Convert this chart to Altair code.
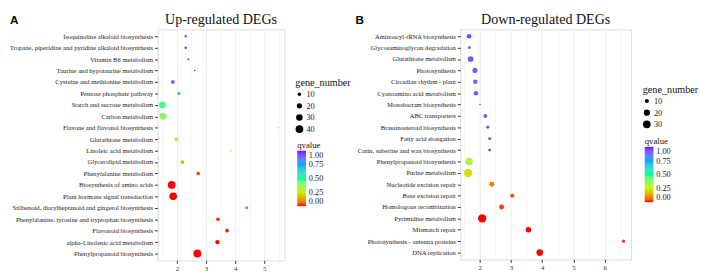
import altair as alt
import pandas as pd

# ---------------- data: panel A (up-regulated) ----------------
terms_up = [
    "Isoquinoline alkaloid biosynthesis",
    "Tropane, piperidine and pyridine alkaloid biosynthesis",
    "Vitamin B6 metabolism",
    "Taurine and hypotaurine metabolism",
    "Cysteine and methionine metabolism",
    "Pentose phosphate pathway",
    "Starch and sucrose metabolism",
    "Carbon metabolism",
    "Flavone and flavonol biosynthesis",
    "Glutathione metabolism",
    "Linoleic acid metabolism",
    "Glycerolipid metabolism",
    "Phenylalanine metabolism",
    "Biosynthesis of amino acids",
    "Plant hormone signal transduction",
    "Stilbenoid, diarylheptanoid and gingerol biosynthesis",
    "Phenylalanine, tyrosine and tryptophan biosynthesis",
    "Flavonoid biosynthesis",
    "alpha-Linolenic acid metabolism",
    "Phenylpropanoid biosynthesis",
]
rich_up = [2.30, 2.30, 2.39, 2.61, 1.86, 2.07, 1.50, 1.52, 5.48, 1.98,
           3.84, 2.19, 2.73, 1.82, 1.87, 4.40, 3.41, 3.72, 3.39, 2.70]
genes_up = [6, 6, 4, 3, 12, 9, 32, 33, 3, 12,
            4, 11, 10, 41, 40, 6, 10, 11, 14, 43]
q_up = [0.95, 0.95, 0.97, 1.00, 0.88, 0.66, 0.47, 0.40, 0.30, 0.32,
        0.28, 0.15, 0.02, 0.00, 0.00, 0.03, 0.01, 0.01, 0.00, 0.00]

# ---------------- data: panel B (down-regulated) ----------------
terms_down = [
    "Aminoacyl-tRNA biosynthesis",
    "Glycosaminoglycan degradation",
    "Glutathione metabolism",
    "Photosynthesis",
    "Circadian rhythm - plant",
    "Cyanoamino acid metabolism",
    "Monobactam biosynthesis",
    "ABC transporters",
    "Brassinosteroid biosynthesis",
    "Fatty acid elongation",
    "Cutin, suberine and wax biosynthesis",
    "Phenylpropanoid biosynthesis",
    "Purine metabolism",
    "Nucleotide excision repair",
    "Base excision repair",
    "Homologous recombination",
    "Pyrimidine metabolism",
    "Mismatch repair",
    "Photosynthesis - antenna proteins",
    "DNA replication",
]
rich_down = [1.66, 1.67, 1.71, 1.85, 1.86, 1.88, 2.01, 2.18, 2.26, 2.32,
             2.32, 1.66, 1.63, 2.39, 3.04, 2.70, 2.08, 3.56, 6.60, 3.92]
genes_down = [12, 5, 17, 14, 11, 11, 3, 9, 6, 6,
              6, 29, 32, 13, 9, 13, 34, 16, 7, 22]
q_down = [0.95, 0.97, 0.92, 0.92, 0.92, 0.92, 0.97, 0.93, 0.95, 0.95,
          0.95, 0.33, 0.22, 0.07, 0.02, 0.02, 0.00, 0.00, 0.02, 0.00]

size_ticks_up = [10, 20, 30, 40]
size_ticks_down = [10, 20, 30]
q_ticks = [0, 0.25, 0.5, 0.75, 1]

SERIF = "Liberation Serif"
color_stops = [0, 0.25, 0.5, 0.75, 1]
color_range = ["#FF0000", "#C8F000", "#00FF99", "#00AAFF", "#8800FF"]


def panel(terms, rich, genes, q, title, letter, xdom, xvals, size_dom,
          size_rng, size_vals, yextent, width, height, lx, ly_size, ly_col,
          letter_x):
    df = pd.DataFrame({"term": terms, "rich": rich,
                       "gene_number": genes, "qvalue": q})
    pts = alt.Chart(df).mark_circle(opacity=1).encode(
        x=alt.X("rich:Q",
                scale=alt.Scale(domain=xdom, nice=False, zero=False),
                axis=alt.Axis(
                    values=xvals,
                    labelExpr="datum.value % 1 === 0 ? format(datum.value, 'd') : ''",
                    tickColor={"condition": {"test": "datum.value % 1 !== 0",
                                             "value": "transparent"},
                               "value": "#333333"},
                    gridWidth={"condition": {"test": "datum.value % 1 !== 0",
                                             "value": 0.5},
                               "value": 1},
                    gridColor="#EBEBEB",
                    domain=False, tickSize=3, labelPadding=1,
                    labelFont=SERIF, labelFontSize=7, labelColor="#333333",
                ),
                title=None),
        y=alt.Y("term:N", sort=terms,
                scale=alt.Scale(type="point", padding=0.6),
                axis=alt.Axis(minExtent=yextent, domain=False, tickSize=3,
                              tickColor="#333333", labelPadding=2,
                              labelFont=SERIF, labelFontSize=6.8,
                              labelColor="#222222", gridColor="#EBEBEB",
                              gridWidth=1, labelLimit=400),
                title=None),
        size=alt.Size("gene_number:Q",
                      scale=alt.Scale(domain=size_dom, range=size_rng, zero=False),
                      legend=alt.Legend(values=size_vals, orient="none",
                                        legendX=lx, legendY=ly_size,
                                        title="gene_number", titleFont=SERIF,
                                        titleFontSize=10.5, titleFontWeight="normal",
                                        titleColor="#111111", titlePadding=2,
                                        labelFont=SERIF, labelFontSize=8.5,
                                        labelColor="#222222", labelOffset=3,
                                        symbolFillColor="black",
                                        symbolStrokeWidth=0, rowPadding=3,
                                        symbolType="circle")),
        color=alt.Color("qvalue:Q",
                        scale=alt.Scale(domain=color_stops, range=color_range,
                                        interpolate="lab"),
                        legend=alt.Legend(values=q_ticks, format=".2f",
                                          orient="none", legendX=lx + 2,
                                          legendY=ly_col, direction="vertical",
                                          title="qvalue", titleFont=SERIF,
                                          titleFontSize=9, titleFontWeight="normal",
                                          titleColor="#111111", titlePadding=1,
                                          labelFont=SERIF, labelFontSize=8.5,
                                          labelColor="#222222", labelOverlap=False,
                                          gradientLength=57, gradientThickness=9,
                                          gradientStrokeWidth=0, labelOffset=3)),
        tooltip=["term", "rich", "gene_number", "qvalue"],
    )
    lab = alt.Chart(pd.DataFrame({"t": [letter]})).mark_text(
        font="Liberation Sans", fontWeight="bold", fontSize=12,
        align="left", baseline="middle", color="black"
    ).encode(x=alt.value(letter_x), y=alt.value(-10), text="t:N")
    return alt.layer(pts, lab).properties(
        width=width, height=height,
        title=alt.TitleParams(title, font=SERIF, fontSize=14.5,
                              fontWeight="normal", anchor="middle",
                              frame="group", offset=-14, color="#111111"),
    )


pa = panel(terms_up, rich_up, genes_up, q_up, "Up-regulated DEGs", "A",
           [1.33, 5.70], [1.5, 2, 2.5, 3, 3.5, 4, 4.5, 5, 5.5],
           [3, 45], [2.5, 70], size_ticks_up, 152, 131, 238,
           142, 50, 115, -152)
pb = panel(terms_down, rich_down, genes_down, q_down, "Down-regulated DEGs", "B",
           [1.38, 6.84], [1.5, 2, 2.5, 3, 3.5, 4, 4.5, 5, 5.5, 6, 6.5],
           [3, 35], [2.5, 75], size_ticks_down, 108, 176, 237,
           188, 57, 111, -108)

chart = alt.hconcat(pa, pb, spacing=2).resolve_scale(
    x="independent", y="independent", color="independent", size="independent"
).resolve_legend(color="independent", size="independent").properties(
    padding=0
).configure_view(stroke="#555555", strokeWidth=1).configure(
    background="white"
)

chart.save("out.html", embed_options={"renderer": "svg", "actions": False})
